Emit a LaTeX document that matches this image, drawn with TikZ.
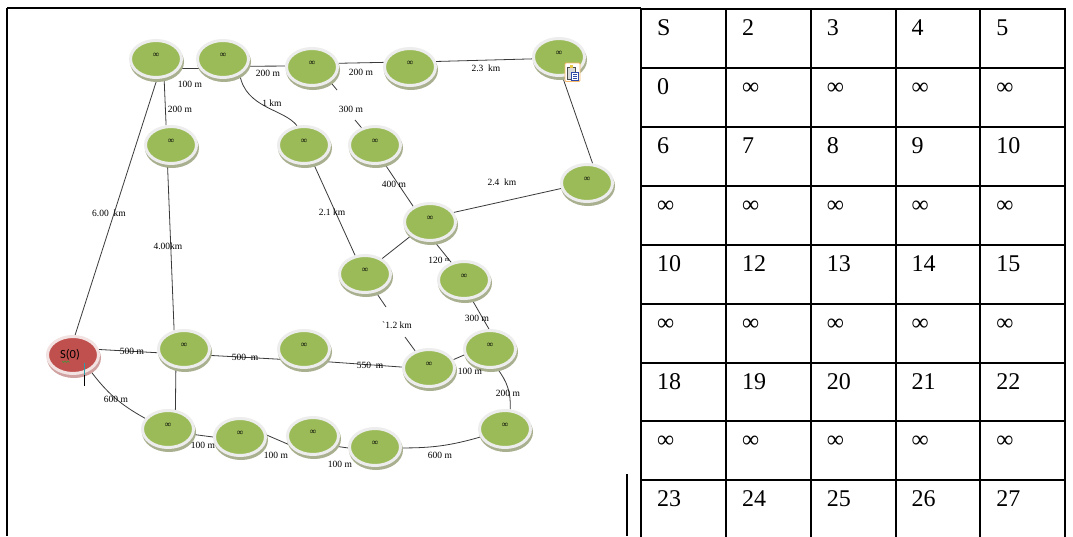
\documentclass[tikz,border=0pt]{standalone}
\usepackage{fontspec}
\setmainfont{Liberation Serif}
\newfontfamily\labelsans{Carlito}
\usetikzlibrary{shapes.geometric,shadows,backgrounds}

\definecolor{leaf}{HTML}{9BBB59}
\definecolor{brick}{HTML}{C0504D}
\definecolor{rimgrey}{HTML}{EDEDED}
\definecolor{leafshade}{HTML}{A9B08F}
\definecolor{brickrim}{HTML}{F2E2E2}
\definecolor{brickshade}{HTML}{D0A2A1}
\definecolor{wire}{HTML}{3A3A3A}
\definecolor{clipframe}{HTML}{F7B968}
\definecolor{docblue}{HTML}{2F4AA8}
\definecolor{clipyellow}{HTML}{E9C646}
\definecolor{cursorteal}{HTML}{2A9EA8}
\definecolor{squiggle}{HTML}{3C9A3C}

\tikzset{
  vbase/.style={ellipse, line width=3pt, minimum width=51pt, minimum height=37pt,
    inner sep=0pt, font=\fontsize{9}{9}\selectfont},
  vtx/.style={vbase, fill=leaf, draw=rimgrey,
    general shadow={fill=leafshade, draw=leafshade, line width=3pt,
      shadow xshift=1pt, shadow yshift=-3pt}},
  srcvtx/.style={vbase, fill=brick, draw=brickrim,
    general shadow={fill=brickshade, draw=brickshade, line width=3pt,
      shadow xshift=1pt, shadow yshift=-3pt}},
  road/.style={draw=wire, line width=0.8pt},
  elab/.style={inner sep=0pt, font=\fontsize{9.5}{10}\selectfont},
  grid/.style={line width=2pt, line cap=rect},
  cell/.style={anchor=base west, inner sep=0pt, font=\fontsize{24}{28}\selectfont},
}
\newcommand{\vinf}{\raisebox{8pt}{∞}}

\begin{document}
\begin{tikzpicture}[x=1pt, y=-1pt]
\useasboundingbox (0,0) rectangle (1073,536);
\begin{scope}[on background layer]
  \fill[white] (0,0) rectangle (1073,536);
\end{scope}

% page frame pieces
\draw[line width=2pt] (7,8) -- (7,536);
\draw[line width=1.2pt] (7,8) -- (641,8);
\draw[line width=2pt] (7,8) -- (25,8);
\draw[line width=2pt] (627,474) -- (627,536);

% vertices of the road network
\node[vtx] (n1) at (156,59) {\vinf};
\node[vtx] (n2) at (223,59) {\vinf};
\node[vtx] (n3) at (312,67) {\vinf};
\node[vtx] (n4) at (410,67) {\vinf};
\node[vtx] (n5) at (559,57) {\vinf};
\node[vtx] (n6) at (171,145) {\vinf};
\node[vtx] (n7) at (304,145) {\vinf};
\node[vtx] (n8) at (375,145) {\vinf};
\node[vtx] (n9) at (587,183) {\vinf};
\node[vtx] (n10) at (430,222) {\vinf};
\node[vtx] (n11) at (365,274) {\vinf};
\node[vtx] (n12) at (464,280) {\vinf};
\node[srcvtx, font=\labelsans\fontsize{12.5}{12.5}\selectfont] (s) at (73,355) {S(0)\hspace*{6pt}};
\node[vtx] (n14) at (184,349) {\vinf};
\node[vtx] (n15) at (304,349) {\vinf};
\node[vtx] (n16) at (429,368) {\vinf};
\node[vtx] (n17) at (490,349) {\vinf};
\node[vtx] (n18) at (168,429) {\vinf};
\node[vtx] (n19) at (240,437) {\vinf};
\node[vtx] (n20) at (313,436) {\vinf};
\node[vtx] (n21) at (375,447) {\vinf};
\node[vtx] (n22) at (505,429) {\vinf};

% break points where a road is interrupted by its label
\coordinate (k1) at (337,90);
\coordinate (k2) at (355,120);
\coordinate (k3) at (386,307);
\coordinate (k4) at (405,337);

% roads
\begin{scope}[on background layer]
  \draw[road] (n1.-21) -- (n2.-159);
  \draw[road] (n2.-16) -- (n3.178);
  \draw[road] (n3.8) -- (n4.170);
  \draw[road] (n4.12) -- (n5.-176);
  \draw[road] (n1.-67) -- (n6.104);
  \draw[road] (n1.-87) -- (s.84);
  \draw[road] (n2.-43) .. controls +(6,34) and +(-13,-17) .. (n7.110);
  \draw[road] (n3.-39) -- (k1);
  \draw[road] (k2) -- (n8.128);
  \draw[road] (n5.-80) -- (n9.74);
  \draw[road] (n6.-100) -- (n14.118);
  \draw[road] (n7.-63) -- (n11.118);
  \draw[road] (n8.-63) -- (n10.137);
  \draw[road] (n10.22) -- (n9.-168);
  \draw[road] (n10.-144) -- (n11.42);
  \draw[road] (n10.-77) -- (n12.126);
  \draw[road] (n11.-59) -- (k3);
  \draw[road] (k4) -- (n16.129);
  \draw[road] (n12.-68) -- (n17.93);
  \draw[road] (s.12) -- (n14.-172);
  \draw[road] (n14.-14) -- (n15.-156);
  \draw[road] (n15.-31) -- (n16.178);
  \draw[road] (n16.19) -- (n17.-167);
  \draw[road] (n17.-70) to[bend left=20] (n22.75);
  \draw[road] (n14.-113) -- (n18.69);
  \draw[road] (s.-42) to[bend right=12] (n18.155);
  \draw[road] (n18.-12) -- (n19.180);
  \draw[road] (n19.4) -- (n20.-161);
  \draw[road] (n20.-24) -- (n21.-178);
  \draw[road] (n21.-2) to[bend right=8] (n22.-162);
\end{scope}

% road lengths
\node[elab] (l1) at (190,84) {100 m};
\node[elab] (l2) at (268,73) {200 m};
\node[elab] (l3) at (361,72) {200 m};
\node[elab] (l4) at (486,68) {2.3\ \ km};
\node[elab] (l5) at (180,109) {200 m};
\node[elab] (l6) at (272,103) {1 km};
\node[elab] (l7) at (351,109) {300 m};
\node[elab] (l8) at (109,213) {6.00 \ km};
\node[elab] (l9) at (168,246) {4.00km};
\node[elab] (l10) at (332,212) {2.1 km};
\node[elab] (l11) at (394,184) {400 m};
\node[elab] (l12) at (502,182) {2.4\ \ km};
\node[elab] (l13) at (439,260) {120 \raisebox{2pt}{\fontsize{6}{6}\selectfont m}};
\node[elab] (l14) at (397,325) {\textasciigrave 1.2 km};
\node[elab] (l15) at (477,318) {300 m};
\node[elab] (l16) at (132,351) {500 m};
\node[elab] (l17) at (245,357) {500\ \ m};
\node[elab] (l18) at (370,365) {550\ \ m};
\node[elab] (l19) at (470,371) {100 m};
\node[elab] (l20) at (508,393) {200 m};
\node[elab] (l21) at (116,399) {600 m};
\node[elab] (l22) at (203,445) {100 m};
\node[elab] (l23) at (276,455) {100 m};
\node[elab] (l24) at (340,464) {100 m};
\node[elab] (l25) at (440,455) {600 m};

% spell-check squiggle and text cursor on the source vertex
\draw[squiggle, line width=0.5pt] (62,361) -- (63.5,362.5) -- (65,361) -- (66.5,362.5)
  -- (68,361) -- (69.5,362.5);
\draw[cursorteal, line width=1.3pt] (84.5,363) -- (84.5,375);
\draw[black, line width=1.3pt] (84.5,375) -- (84.5,386);

% paste-options button
\draw[clipframe, fill=white, line width=0.8pt, rounded corners=1pt] (565,63) rectangle (580,81.5);
\draw[fill=black!15, draw=black!70, line width=0.6pt] (567.5,67) rectangle (575,79);
\fill[clipyellow] (569.5,65.3) rectangle (573,68.3);
\draw[fill=white, draw=docblue, line width=0.8pt] (571.5,72) rectangle (578,80);
\draw[docblue, line width=0.5pt] (573,74.5) -- (576.5,74.5) (573,76.5) -- (576.5,76.5) (573,78.3) -- (576.5,78.3);

% distance table
\foreach \x in {641,726,811,896,980,1065}
  \draw[grid] (\x,9) -- (\x,536);
\foreach \y in {9,68,127,186,245,304,363,421,480}
  \draw[grid] (641,\y) -- (1065,\y);
\foreach \r/\yy/\cells in {0/9/{S,2,3,4,5}, 1/68/{0,∞,∞,∞,∞},
    2/127/{6,7,8,9,10}, 3/186/{∞,∞,∞,∞,∞}, 4/245/{10,12,13,14,15},
    5/304/{∞,∞,∞,∞,∞}, 6/363/{18,19,20,21,22}, 7/421/{∞,∞,∞,∞,∞},
    8/480/{23,24,25,26,27}}
  \foreach \t [count=\c] in \cells
    \node[cell] (cell-\r-\c) at ({657+(\c-1)*84.8}, \yy+26) {\t};
\end{tikzpicture}
\end{document}
